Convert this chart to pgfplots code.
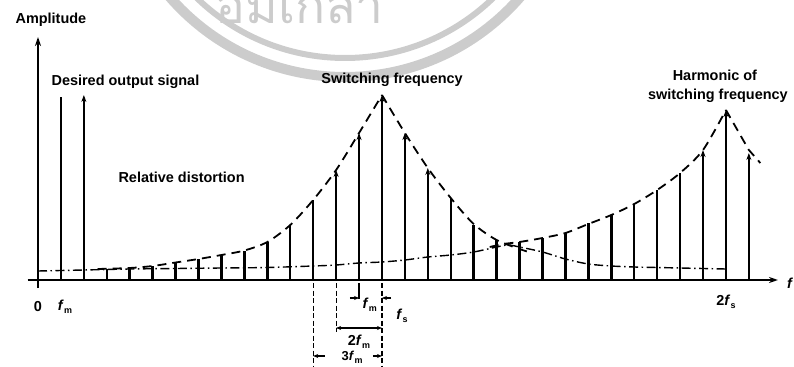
\documentclass[border=0pt]{standalone}
\usepackage{pgfplots}
\pgfplotsset{compat=1.18}
\usepackage{pgfplotstable}
\usepackage{fontspec}
\setmainfont{Liberation Sans}
\newfontfamily\thaifont[Script=Thai]{Loma}
\usetikzlibrary{arrows.meta}

% spectral lines (n = multiple of f_m), drawn with an arrowhead
\pgfplotstableread{
n h
2 185
13 110
14 147
15 185
16 147
17 112
29 130
30 170
31 127
}\arrowlines

% spectral lines without arrowhead
\pgfplotstableread{
n h
1 183
3 11
4 12
5 14
6 18
7 21
8 25
9 29
10 38
11 55
12 80
18 82
19 55
20 40
21 38
22 42
23 47
24 57
25 65
26 76
27 90
28 107
}\plainlines

\newcommand\fsub[1]{\textit{f}\kern0.3bp\raisebox{-0.45ex}{\fontsize{9}{9}\selectfont #1}}

\begin{document}
\begin{tikzpicture}[font=\fontsize{14.5}{16}\selectfont\bfseries]
\useasboundingbox (-38bp,-87bp) rectangle (756bp,280bp);
% seal in the background
\begin{scope}[black!20]
  \draw[line width=10bp] (307bp,435bp) circle[radius=232bp];
  \draw[line width=6bp] (307bp,435bp) circle[radius=213bp];
  \node[anchor=base west, font=\fontsize{50}{52}\selectfont\thaifont] at (174bp,256bp) {อมเกล้า};
\end{scope}
\begin{axis}[
  at={(0,0)}, anchor=origin,
  scale only axis, width=750.3bp, height=251bp,
  xmin=-0.45, xmax=32.27, ymin=-8, ymax=243,
  axis lines=middle,
  axis line style={line width=1.8bp, -{Stealth[length=9bp,width=6bp]}},
  xtick=\empty, ytick=\empty,
  clip=false,
]
% relative distortion (dash-dot)
\addplot[black, line width=1.4bp, smooth, dash pattern=on 9bp off 3.5bp on 1.5bp off 3.5bp]
  coordinates {(0,9) (2,10) (4,11) (6,11.5) (8,12) (10,12.5) (12,14) (13,15) (14,17)
  (15,18) (16,20) (17,23) (18,25) (19,28) (20,33) (20.5,35) (21,33) (22,28) (23,21)
  (24,16) (25,14) (26,13) (27,12.5) (28,12) (29,11.5) (30,11)};
% envelope around the switching frequency
\addplot[black, line width=1.8bp, smooth, dash pattern=on 9bp off 6bp]
  coordinates {(2.6,11) (4,12) (5,14) (6,17.5) (7,21) (8,25) (9,29.5) (10,38) (11,55)
  (12,80) (13,110) (14,147) (15,185)};
\addplot[black, line width=1.8bp, smooth, dash pattern=on 9bp off 6bp]
  coordinates {(15,185) (16,147) (17,112) (18,82) (19,56) (20,40) (21,31) (21.4,28)};
% envelope around the harmonic of the switching frequency
\addplot[black, line width=1.8bp, smooth, dash pattern=on 9bp off 6bp]
  coordinates {(19.7,33) (20.3,36) (21,38) (22,42) (23,47) (24,56) (25,65) (26,76)
  (27,90) (28,107) (29,130) (30,170)};
\addplot[black, line width=1.8bp, dash pattern=on 9bp off 6bp]
  coordinates {(30,170) (31,130) (31.5,117)};
% spectral lines
\addplot[ycomb, black, line width=2.5bp, mark=none] table[x=n, y=h] {\plainlines};
\addplot[black, line width=2.5bp, -{Stealth[length=7bp,width=5bp]},
  quiver={u=0, v=\thisrow{h}}] table[x=n, y expr=0] {\arrowlines};

% labels
\node[anchor=west] at (axis cs:-1.13,260) {Amplitude};
\node[anchor=west] at (axis cs:0.44,198) {Desired output signal};
\node[anchor=west] at (axis cs:3.36,103) {Relative distortion};
\node at (axis cs:15.44,200) {Switching frequency};
\node at (axis cs:29.52,205) {Harmonic of};
\node at (axis cs:29.65,184) {switching frequency};
\node at (axis cs:0,-27) {0};
\node at (axis cs:1.18,-27) {\fsub{m}};
\node at (axis cs:15.87,-36) {\fsub{s}};
\node at (axis cs:30,-22) {2\fsub{s}};
\node at (axis cs:32.8,-3) {\textit{f}};

% sideband spacing dimensions below the carrier
\begin{scope}[line width=1.2bp]
  \draw[dash pattern=on 5bp off 2.5bp] (axis cs:12,-3) -- (axis cs:12,-90);
  \draw[dash pattern=on 5bp off 2.5bp] (axis cs:13,-3) -- (axis cs:13,-52);
  \draw (axis cs:14,-3) -- (axis cs:14,-19);
  \draw[dash pattern=on 5bp off 2.5bp] (axis cs:15,-3) -- (axis cs:15,-88);
  \draw[-{Stealth[length=5bp,width=4bp]}] (axis cs:13.6,-18) -- (axis cs:14,-18);
  \draw[-{Stealth[length=5bp,width=4bp]}] (axis cs:15.4,-18) -- (axis cs:15,-18);
  \node at (axis cs:14.47,-25) {\fsub{m}};
  \draw[{Stealth[length=5bp,width=4bp]}-{Stealth[length=5bp,width=4bp]}] (axis cs:13,-48) -- (axis cs:15,-48);
  \node at (axis cs:14,-62) {2\fsub{m}};
  \draw[-{Stealth[length=5bp,width=4bp]}] (axis cs:12.5,-76) -- (axis cs:12,-76);
  \draw[-{Stealth[length=5bp,width=4bp]}] (axis cs:14.6,-76) -- (axis cs:15,-76);
  \node[font=\fontsize{13}{14}\selectfont\bfseries] at (axis cs:13.7,-77) {3\fsub{m}};
\end{scope}
\end{axis}
\end{tikzpicture}
\end{document}
